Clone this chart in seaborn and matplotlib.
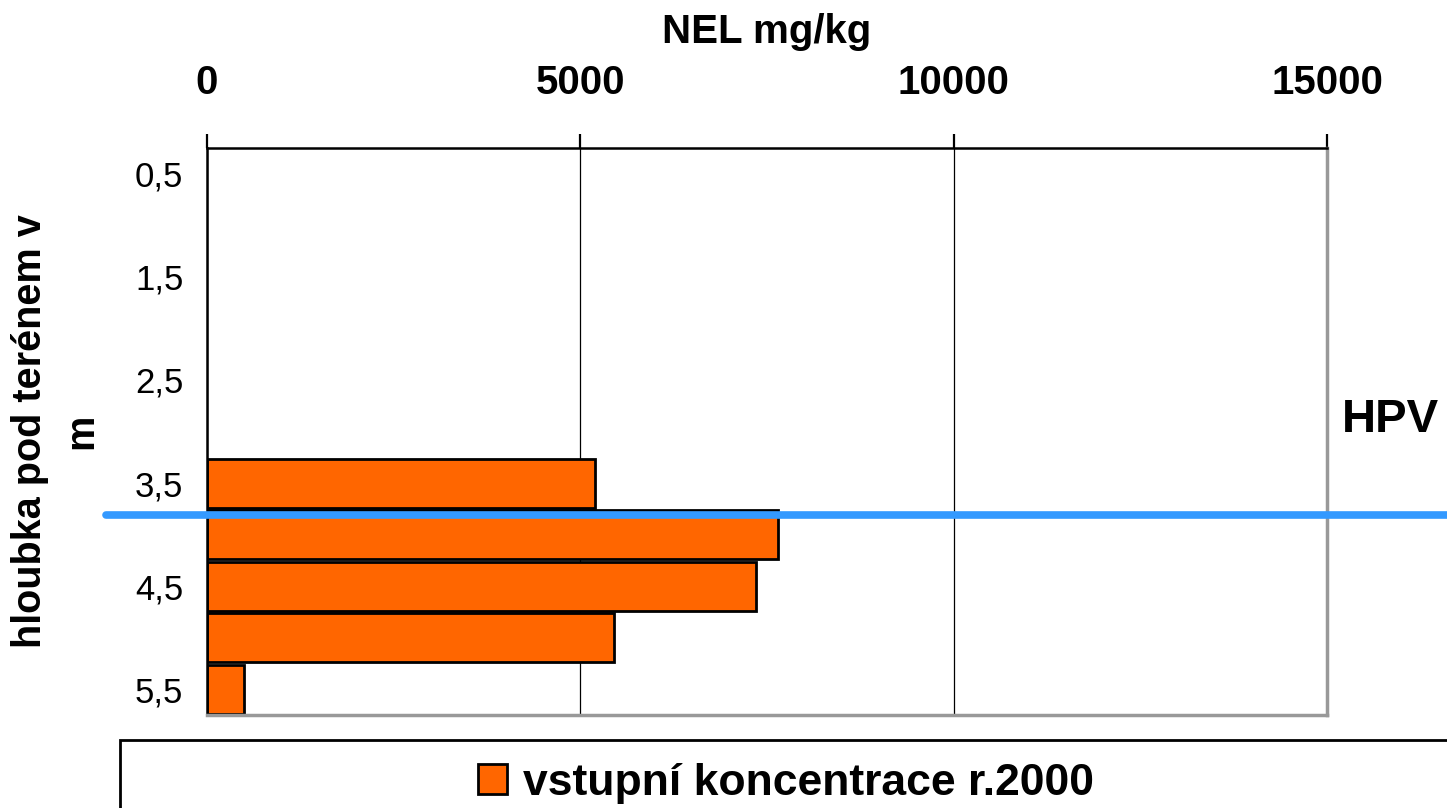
import numpy as np
import pandas as pd
import seaborn as sns
import matplotlib.pyplot as plt
from matplotlib.patches import Rectangle

# hloubky (m) a koncentrace NEL (mg/kg)
depths = ["0,5", "1", "1,5", "2", "2,5", "3", "3,5", "4", "4,5", "5", "5,5"]
nel = [np.nan, np.nan, np.nan, np.nan, np.nan, np.nan, 5200, 7650, 7350, 5450, 500]
shown_labels = ["0,5", "1,5", "2,5", "3,5", "4,5", "5,5"]
hpv_depth = 3.81  # hladina podzemni vody
x_ticks = [0, 5000, 10000, 15000]
series_name = "vstupní koncentrace r.2000"

df = pd.DataFrame({"hloubka": depths, "NEL": nel}).dropna()

sns.set_style("white")
plt.rcParams["font.family"] = ["Liberation Sans", "DejaVu Sans"]
plt.rcParams["text.color"] = "black"
plt.rcParams["axes.labelcolor"] = "black"
plt.rcParams["xtick.color"] = "black"
plt.rcParams["ytick.color"] = "black"

fig = plt.figure(figsize=(14.47, 8.08), dpi=100)
ax = fig.add_axes([207 / 1447, 1 - 715 / 808, 1120 / 1447, 567 / 808])

sns.barplot(data=df, x="NEL", y="hloubka", order=depths, orient="h",
            color="#FF6600", saturation=1, edgecolor="black", linewidth=2,
            width=0.95, label=series_name, ax=ax)

ax.set_xlim(0, 15000)
ax.set_ylim(len(depths) - 0.5, -0.5)

# x axis on top
ax.xaxis.set_ticks_position("top")
ax.xaxis.set_label_position("top")
ax.set_xticks(x_ticks)
ax.set_xticklabels([str(v) for v in x_ticks], fontsize=29, fontweight="bold")
ax.tick_params(axis="x", which="major", direction="out", length=10, width=1.6,
               pad=23)
ax.set_xlabel("NEL mg/kg", fontsize=29, fontweight="bold", labelpad=15)

# y axis: ticks at band boundaries, labels every other band
pos = {d: i for i, d in enumerate(depths)}
ax.set_yticks(np.arange(len(depths) + 1) - 0.5)
ax.set_yticklabels([])
ax.set_yticks([pos[d] for d in shown_labels], minor=True)
ax.set_yticklabels(shown_labels, minor=True, fontsize=25)
ax.tick_params(axis="y", which="major", direction="out", length=8, width=1.6)
ax.tick_params(axis="y", which="minor", length=0, pad=17)
ax.set_ylabel("hloubka pod terénem v\nm", fontsize=28.5, fontweight="bold", linespacing=1.45)
ax.yaxis.set_label_coords(-0.095, 0.5)

ax.grid(axis="x", color="black", linewidth=0.9)
ax.grid(axis="y", visible=False)
ax.set_axisbelow(True)

for side in ["top", "left"]:
    ax.spines[side].set_color("black")
    ax.spines[side].set_linewidth(1.8)
for side in ["right", "bottom"]:
    ax.spines[side].set_color("#999999")
    ax.spines[side].set_linewidth(2.5)

# HPV line across the whole figure width
hpv_y = pos["3,5"] + 0.5 + (hpv_depth - 3.75) / 0.5
ax.plot([-0.09, 1.12], [hpv_y, hpv_y], color="#3399FF", linewidth=5.5,
        transform=ax.get_yaxis_transform(), clip_on=False, zorder=5)
fig.text(1390 / 1447, 1 - 420 / 808, "HPV", fontsize=34, fontweight="bold",
         ha="center", va="center")

# legend box at the bottom
fig.patches.append(Rectangle((120 / 1447, -0.05), 1.0, 1 - 740 / 808 + 0.05,
                             transform=fig.transFigure, fill=False,
                             edgecolor="black", linewidth=2))
handles, labels = ax.get_legend_handles_labels()
if ax.get_legend() is not None:
    ax.get_legend().remove()
fig.legend(handles, labels, loc="center", bbox_to_anchor=(786 / 1447, 1 - 783 / 808),
           frameon=False, prop={"size": 32, "weight": "bold"},
           handlelength=0.65, handleheight=0.65, handletextpad=0.35)

fig.savefig("out.png", dpi=100)
